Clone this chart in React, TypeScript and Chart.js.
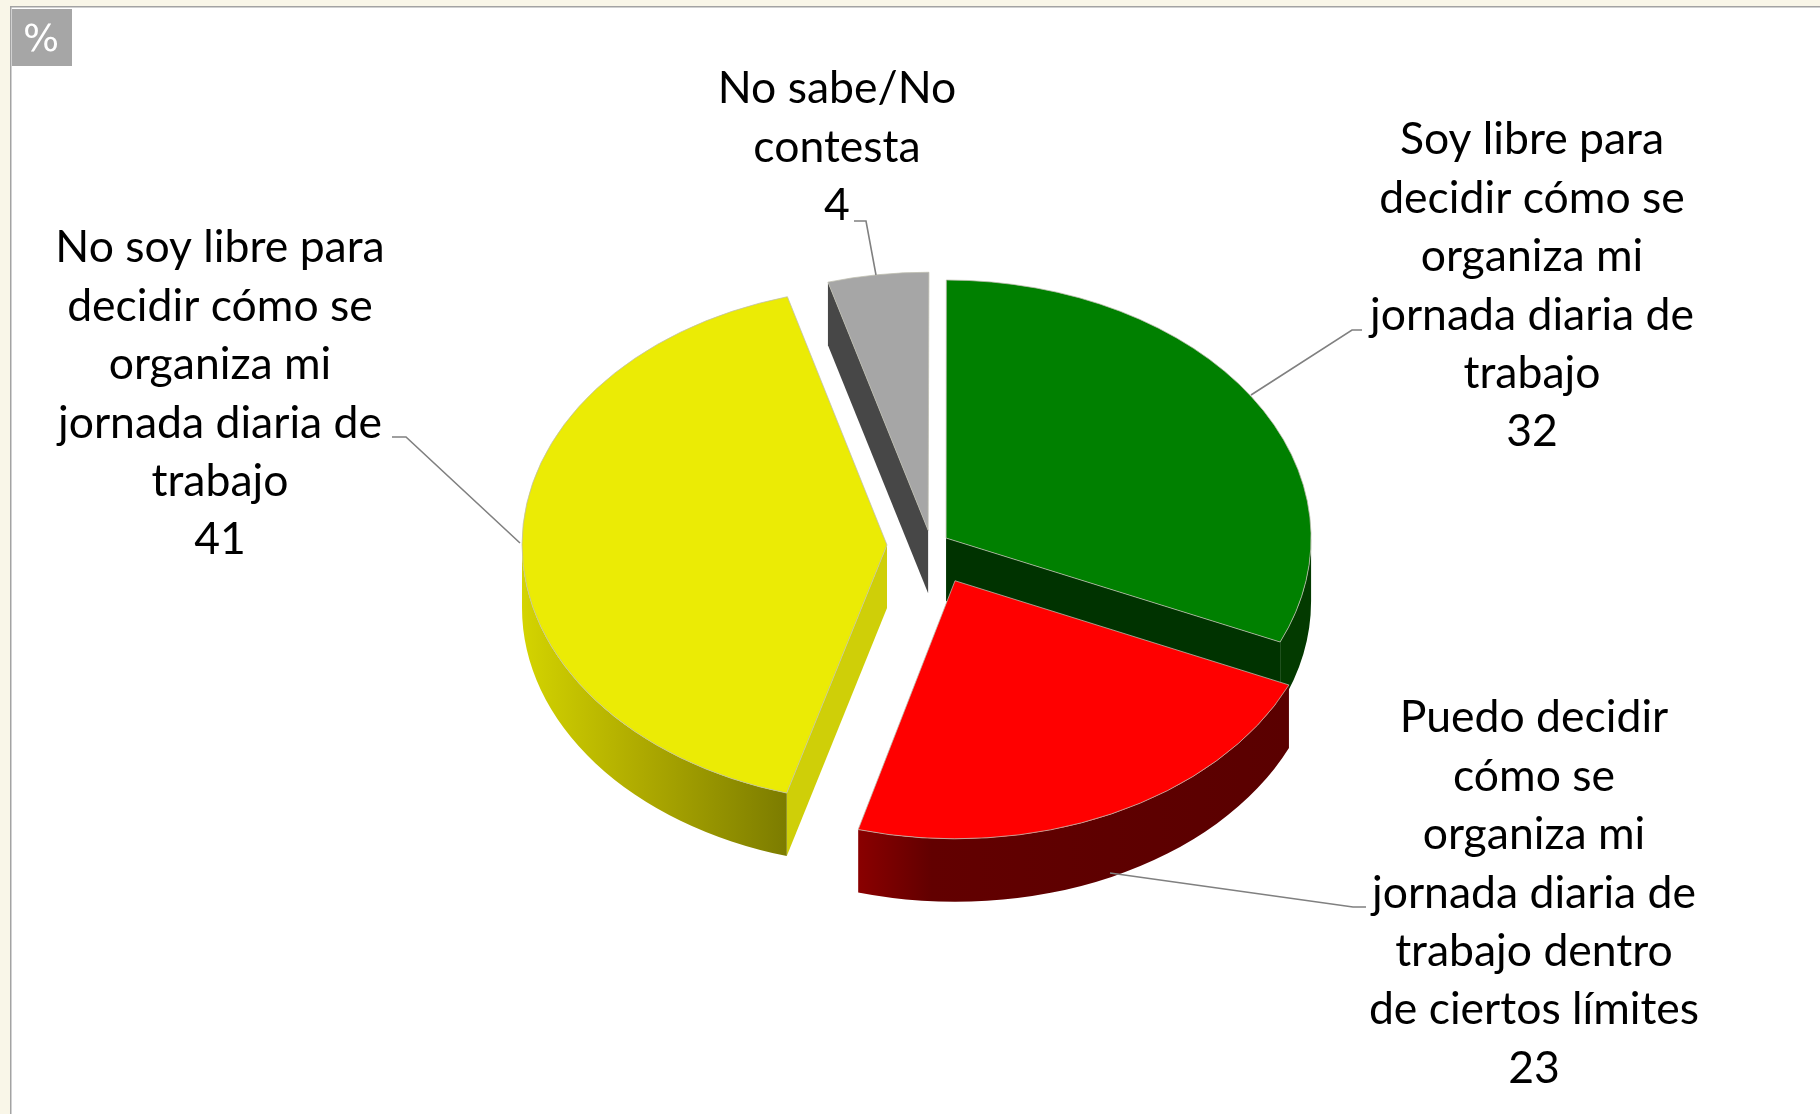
import React, { useEffect, useRef } from "react";
import Chart from "chart.js/auto";

const categories = [
  "Soy libre para decidir cómo se organiza mi jornada diaria de trabajo",
  "Puedo decidir cómo se organiza mi jornada diaria de trabajo dentro de ciertos límites",
  "No soy libre para decidir cómo se organiza mi jornada diaria de trabajo",
  "No sabe/No contesta",
];
const values = [32, 23, 41, 4];
const labelLines = [
  ["Soy libre para", "decidir cómo se", "organiza mi", "jornada diaria de", "trabajo"],
  ["Puedo decidir", "cómo se", "organiza mi", "jornada diaria de", "trabajo dentro", "de ciertos límites"],
  ["No soy libre para", "decidir cómo se", "organiza mi", "jornada diaria de", "trabajo"],
  ["No sabe/No", "contesta"],
];
const sliceColors = ["#008000", "#ff0000", "#ebeb05", "#a6a6a6"];
// Chart.js moves an arc by offset / 4
const explode = [72, 224, 176, 84];
const unitLabel = "%";

const K = 0.707;
const DEPTH = 63;
const RADIUS = 365;
const FONT = "Lato";
const FONT_SIZE = 44.5;
const LINE_H = 58.4;
const labelPos = [
  { x: 1532, y: 140 },
  { x: 1534, y: 718 },
  { x: 220, y: 248 },
  { x: 837, y: 89 },
];
const leaders = [
  [[1251, 395], [1352, 330], [1362, 330]],
  [[1110, 873], [1353, 907], [1366, 907]],
  [[520, 543], [406, 437], [392, 437]],
  [[876, 275], [866, 221], [854, 221]],
];
// small perspective skew of the slice boundaries, in degrees
const startSkew = [0, -1.4, -2.6, -1.9];
const endSkew = [-1.4, -2.6, -0.9, 0.5];

const DEG = Math.PI / 180;

const sidePlugin = {
  id: "pie3d",
  beforeDraw(chart: any) {
    const { ctx, width, height } = chart;
    ctx.save();
    ctx.fillStyle = "#ffffff";
    ctx.fillRect(0, 0, width, height);
    ctx.fillStyle = "#f9f6e8";
    ctx.fillRect(0, 0, width, 6);
    ctx.fillRect(0, 0, 10, height);
    ctx.fillStyle = "#a3a3a3";
    ctx.fillRect(10, 6, width - 10, 1.5);
    ctx.fillRect(10, 6, 1.5, height - 6);
    ctx.fillStyle = "#a6a6a6";
    ctx.fillRect(12, 9, 60, 57);
    ctx.fillStyle = "#ffffff";
    ctx.font = `38px "DejaVu Sans"`;
    ctx.textAlign = "center";
    ctx.textBaseline = "middle";
    ctx.fillText(unitLabel, 41, 41);
    ctx.restore();
  },
  afterDatasetsUpdate(chart: any) {
    chart.getDatasetMeta(0).data.forEach((a: any, i: number) => {
      a.startAngle += startSkew[i] * DEG;
      a.endAngle += endSkew[i] * DEG;
      a.circumference = a.endAngle - a.startAngle;
      // cancel the radius growth Chart.js gives to offset arcs
      const fix = 1 - Math.sin(Math.min(Math.PI, a.circumference));
      a.outerRadius = RADIUS - (a.options.offset / 4) * fix;
    });
  },
  beforeDatasetsDraw(chart: any) {
    const { ctx } = chart;
    const arcs = chart.getDatasetMeta(0).data;
    const cy0 = arcs[0].y;

    const geo = arcs.map((a: any) => {
      const mid = (a.startAngle + a.endAngle) / 2;
      const off = a.options.offset / 4;
      const fix = 1 - Math.sin(Math.min(Math.PI, a.circumference));
      const shrink = (off * fix) / Math.PI / RADIUS / 2;
      const cx = a.x + Math.cos(mid) * off;
      const cy = a.y + K * Math.sin(mid) * off;
      const pt = (t: number) => [cx + RADIUS * Math.cos(t), cy + K * RADIUS * Math.sin(t)];
      return { cx, cy, pt, s: a.startAngle + shrink, e: a.endAngle - shrink };
    });

    const wall = (g: any, t: number, fill: any) => {
      const [x, y] = g.pt(t);
      ctx.beginPath();
      ctx.moveTo(g.cx, g.cy);
      ctx.lineTo(x, y);
      ctx.lineTo(x, y + DEPTH);
      ctx.lineTo(g.cx, g.cy + DEPTH);
      ctx.closePath();
      ctx.fillStyle = fill;
      ctx.fill();
    };
    const rim = (g: any, from: number, to: number, fill: any) => {
      ctx.beginPath();
      ctx.ellipse(g.cx, g.cy, RADIUS, K * RADIUS, 0, from, to, false);
      ctx.ellipse(g.cx, g.cy + DEPTH, RADIUS, K * RADIUS, 0, to, from, true);
      ctx.closePath();
      ctx.fillStyle = fill;
      ctx.fill();
    };
    const hLinear = (x0: number, x1: number, stops: [number, string][]) => {
      const g = ctx.createLinearGradient(x0, 0, x1, 0);
      stops.forEach(([p, c]) => g.addColorStop(p, c));
      return g;
    };

    const [gGreen, gRed, gYellow, gGrey] = geo;
    const norm = (t: number) => ((t % (2 * Math.PI)) + 2 * Math.PI) % (2 * Math.PI);
    ctx.save();
    wall(gGrey, gGrey.s, "#474747");
    wall(gGreen, gGreen.e, "#003300");
    rim(gGreen, 0, norm(gGreen.e), "#033a00");
    wall(gYellow, gYellow.s, "#cfcf08");
    rim(
      gYellow,
      norm(gYellow.s),
      Math.PI,
      hLinear(gYellow.cx - RADIUS, gYellow.pt(gYellow.s)[0], [
        [0, "#d4d400"],
        [0.45, "#aeaa00"],
        [1, "#7c7c00"],
      ]),
    );
    rim(
      gRed,
      norm(gRed.s),
      norm(gRed.e),
      hLinear(gRed.pt(gRed.e)[0], gRed.pt(gRed.s)[0], [
        [0, "#8a0000"],
        [0.17, "#620000"],
        [1, "#5a0000"],
      ]),
    );
    ctx.restore();

    ctx.save();
    ctx.translate(0, cy0);
    ctx.scale(1, K);
    ctx.translate(0, -cy0);
  },
  afterDatasetsDraw(chart: any) {
    chart.ctx.restore();
  },
  afterDraw(chart: any) {
    const { ctx } = chart;
    ctx.save();
    ctx.strokeStyle = "#808080";
    ctx.lineWidth = 1.6;
    leaders.forEach((l) => {
      ctx.beginPath();
      l.forEach(([x, y], i) => (i ? ctx.lineTo(x, y) : ctx.moveTo(x, y)));
      ctx.stroke();
    });
    ctx.fillStyle = "#000000";
    ctx.font = `${FONT_SIZE}px ${FONT}`;
    ctx.textAlign = "center";
    ctx.textBaseline = "middle";
    labelLines.forEach((lines, i) => {
      [...lines, String(values[i])].forEach((t, j) => {
        ctx.fillText(t, labelPos[i].x, labelPos[i].y + j * LINE_H);
      });
    });
    ctx.restore();
  },
};

export default function App() {
  const ref = useRef<HTMLCanvasElement>(null);
  useEffect(() => {
    const chart = new Chart(ref.current!, {
      type: "pie",
      data: {
        labels: categories,
        datasets: [
          {
            data: values,
            backgroundColor: sliceColors,
            borderColor: "rgba(190,190,175,0.9)",
            borderWidth: 1,
            offset: explode,
            radius: RADIUS,
            clip: false,
          } as any,
        ],
      },
      options: {
        responsive: false,
        animation: false,
        layout: { padding: { left: 42, bottom: 24 } },
        plugins: { legend: { display: false }, tooltip: { enabled: false }, title: { display: false } },
      } as any,
      plugins: [sidePlugin],
    });
    return () => chart.destroy();
  }, []);
  return (
    <canvas
      ref={ref}
      width={1820}
      height={1114}
      style={{ position: "absolute", left: 0, top: 0, width: 1820, height: 1114, display: "block" }}
    />
  );
}
